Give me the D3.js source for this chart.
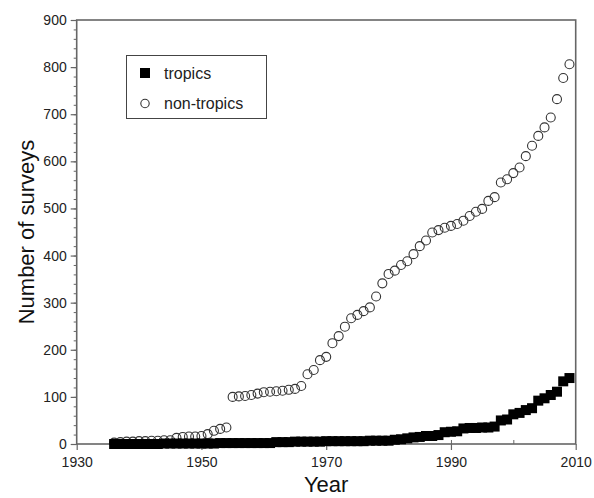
<!DOCTYPE html>
<html>
  <head>
    <meta charset="utf-8">
    <style>
      body { margin: 0; background: #fff; }
      svg { font-family: "Liberation Sans", Arial, sans-serif; }
    </style>
  </head>
  <body>
    <script src="https://d3js.org/d3.v7.min.js"></script>
    <script>
      // cumulative number of surveys per year
      const years = d3.range(1936, 2010)
      const nonTropics = [
        3, 4, 5, 5, 6, 6, 7, 7, 8, 8,            // 1936-1945
        13, 15, 16, 16, 17, 21, 28, 32, 35,      // 1946-1954
        100, 101, 102, 104, 107, 110, 111, 112, 113, 115, 117, 123, // 1955-1966
        148, 157, 178, 185, 214, 229, 249, 267, 274, 282, 290, 313, // 1967-1978
        341, 361, 368, 380, 388, 403, 420, 432, 449, 454, 459, 463, // 1979-1990
        467, 474, 484, 493, 499, 516, 524, 555, 562, 575, 587, 611, // 1991-2002
        633, 654, 672, 693, 732, 777, 806        // 2003-2009
      ]
      const tropics = [
        0, 0, 0, 0, 0, 0, 0, 0, 1, 1, 1, 1, 1, 1, 1,   // 1936-1950
        1, 1, 2, 2, 2, 2, 2, 2, 2, 2, 2,               // 1951-1961
        4, 4, 4, 5, 5, 5, 5, 5, 6, 6, 6, 6, 6, 6, 6, 7, 7, 7, // 1962-1979
        7, 9, 10, 12, 14, 15, 17, 17, 19, 25, 26,     // 1980-1990
        27, 33, 34, 34, 35, 35, 37,                   // 1991-1997
        50, 52, 63, 66, 72, 76, 92, 97, 104, 111, 133, 140 // 1998-2009
      ]
      const xTicks = [1930, 1950, 1970, 1990, 2010]
      const yTicks = [0, 100, 200, 300, 400, 500, 600, 700, 800, 900]

      const w = 594, h = 498
      const mLeft = 76.7, mRight = 575.7, mTop = 20, mBottom = 444

      const svg = d3.select("body").append("svg")
        .attr("width", w)
        .attr("height", h)

      const x = d3.scaleLinear().domain([1930, 2010]).range([mLeft, mRight])
      const y = d3.scaleLinear().domain([0, 900]).range([mBottom, mTop])

      const axisColor = "#666"

      // minor ticks
      svg.append("g")
        .attr("transform", "translate(" + mLeft + ",0)")
        .call(d3.axisLeft(y).tickValues(d3.range(0, 901, 20)).tickSize(3).tickFormat(""))
        .call(g => g.select(".domain").remove())
        .call(g => g.selectAll("line").attr("stroke", axisColor))
      svg.append("g")
        .attr("transform", "translate(0," + mBottom + ")")
        .call(d3.axisTop(x).tickValues(d3.range(1940, 2010, 10)).tickSize(4).tickFormat(""))
        .call(g => g.select(".domain").remove())
        .call(g => g.selectAll("line").attr("stroke", axisColor))

      // major ticks + labels
      svg.append("g")
        .attr("transform", "translate(" + mLeft + ",0)")
        .call(d3.axisLeft(y).tickValues(yTicks).tickSize(6).tickPadding(4).tickSizeOuter(0))
        .call(g => g.select(".domain").remove())
        .call(g => g.selectAll("line").attr("stroke", axisColor).attr("stroke-width", 1.2))
        .call(g => g.selectAll("text").attr("font-size", 14).attr("fill", "#222").attr("font-family", "Liberation Sans, Arial, sans-serif"))
      svg.append("g")
        .attr("transform", "translate(0," + mBottom + ")")
        .call(d3.axisBottom(x).tickValues(xTicks).tickSize(6).tickPadding(7).tickFormat(d3.format("d")).tickSizeOuter(0))
        .call(g => g.select(".domain").remove())
        .call(g => g.selectAll("line").attr("stroke", axisColor).attr("stroke-width", 1.2))
        .call(g => g.selectAll("text").attr("font-size", 14).attr("fill", "#222").attr("font-family", "Liberation Sans, Arial, sans-serif"))

      // frame
      svg.append("rect")
        .attr("x", mLeft).attr("y", mTop)
        .attr("width", mRight - mLeft).attr("height", mBottom - mTop)
        .attr("fill", "none")
        .attr("stroke", axisColor)
        .attr("stroke-width", 1.6)

      // non-tropics: open circles
      svg.append("g").selectAll("circle")
        .data(years)
        .enter()
        .append("circle")
          .attr("cx", (d) => x(d))
          .attr("cy", (d, i) => y(nonTropics[i]))
          .attr("r", 4.5)
          .attr("fill", "none")
          .attr("stroke", "#333")
          .attr("stroke-width", 1.1)

      // tropics: filled squares
      const sq = 10
      svg.append("g").selectAll("rect")
        .data(years)
        .enter()
        .append("rect")
          .attr("x", (d) => x(d) - sq / 2)
          .attr("y", (d, i) => y(tropics[i]) - sq / 2)
          .attr("width", sq)
          .attr("height", sq)
          .attr("fill", "#000")

      // legend
      const lg = svg.append("g")
      lg.append("rect")
        .attr("x", 126.5).attr("y", 55.5)
        .attr("width", 140).attr("height", 63)
        .attr("fill", "#fff")
        .attr("stroke", "#444")
        .attr("stroke-width", 1)
      lg.append("rect")
        .attr("x", 140).attr("y", 68).attr("width", 10).attr("height", 10)
        .attr("fill", "#000")
      lg.append("circle")
        .attr("cx", 145).attr("cy", 103.5).attr("r", 4.2)
        .attr("fill", "none").attr("stroke", "#333").attr("stroke-width", 1.1)
      lg.append("text")
        .attr("x", 164).attr("y", 78.5)
        .attr("font-size", 16).attr("fill", "#222")
        .text("tropics")
      lg.append("text")
        .attr("x", 164).attr("y", 109)
        .attr("font-size", 16).attr("fill", "#222")
        .text("non-tropics")

      // axis titles
      svg.append("text")
        .attr("x", (mLeft + mRight) / 2)
        .attr("y", 492)
        .attr("text-anchor", "middle")
        .attr("font-size", 22)
        .attr("fill", "#111")
        .text("Year")
      svg.append("text")
        .attr("transform", "translate(34," + ((mTop + mBottom) / 2) + ") rotate(-90)")
        .attr("text-anchor", "middle")
        .attr("font-size", 22)
        .attr("fill", "#111")
        .text("Number of surveys")
    </script>
  </body>
</html>
